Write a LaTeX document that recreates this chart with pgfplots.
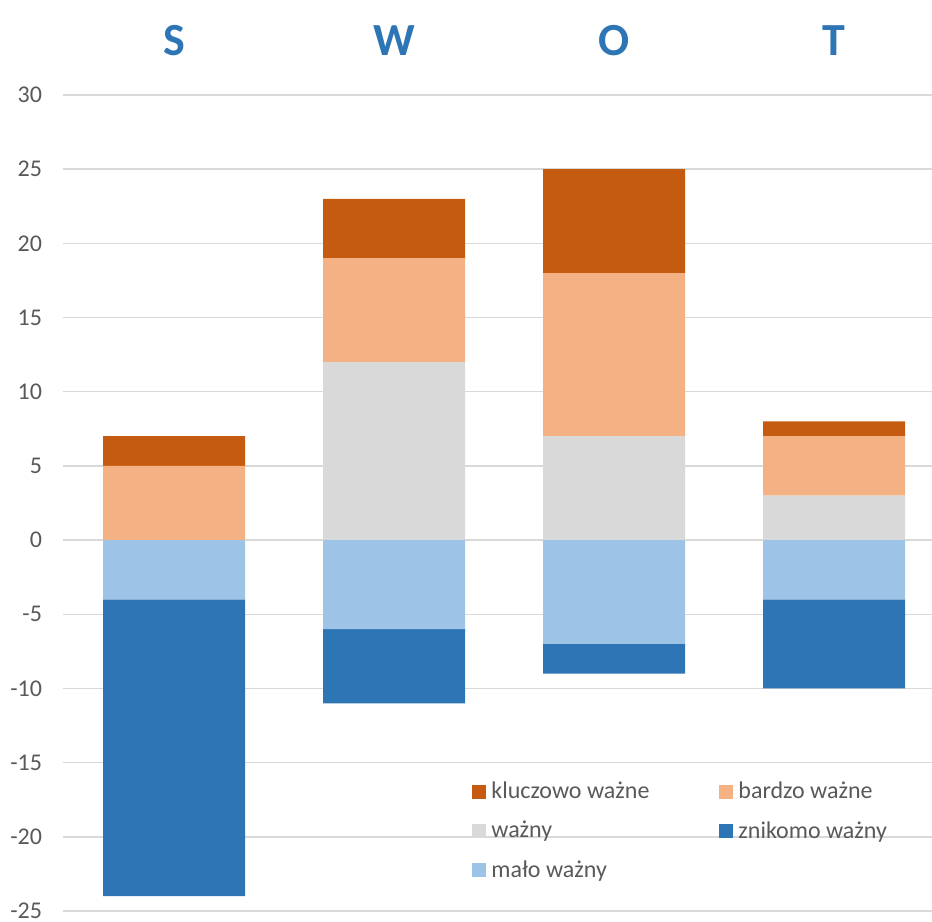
\documentclass[border=0pt]{standalone}
\usepackage{fontspec}
\setmainfont{Carlito}
\usepackage{pgfplots}
\pgfplotsset{compat=1.18}

\definecolor{klucz}{HTML}{C55A11}
\definecolor{bardzo}{HTML}{F4B183}
\definecolor{wazny}{HTML}{D9D9D9}
\definecolor{znikomo}{HTML}{2E75B6}
\definecolor{malo}{HTML}{9DC3E6}
\definecolor{txt}{HTML}{595959}
\definecolor{gridc}{HTML}{D9D9D9}
\definecolor{titleblue}{HTML}{2E75B6}

\pgfplotsset{
  sq/.style={fill=#1, draw=none,
    legend image code/.code={\fill[fill=#1] (0pt,-3.5pt) rectangle (7pt,3.5pt);}},
}

\begin{document}
\begin{tikzpicture}
\begin{axis}[
    scale only axis,
    width=434.5pt, height=408pt,
    xmin=-0.5045, xmax=3.445,
    ymin=-25, ymax=30,
    ybar stacked,
    bar width=71pt,
    xtick={0,1,2,3},
    xticklabels={S,W,O,T},
    xticklabel pos=upper,
    ytick={-25,-20,...,30},
    yticklabels={-25,-20,-15,-10,-5,0,5,10,15,20,25,30},
    axis line style={draw=none},
    tick style={draw=none},
    major tick length=0pt,
    ymajorgrids,
    grid style={color=gridc, line width=0.75pt},
    xticklabel style={font=\fontsize{23}{28}\selectfont\bfseries, text=titleblue, yshift=16pt},
    yticklabel style={font=\fontsize{12}{14}\selectfont, text=txt, xshift=-7pt},
    legend style={at={(rel axis cs:0.4706,0.162)}, anchor=north west,
      draw=none, fill=none, inner sep=0pt, row sep=6.75pt,
      font=\fontsize{12}{14}\selectfont, text=txt,
      nodes={inner sep=1.5pt},
      /tikz/every odd column/.append style={column sep=1pt},
      /tikz/every even column/.append style={column sep=33.5pt}},
    legend columns=2,
    legend cell align=left,
]
% negative part (stacked downwards from zero)
\addplot[fill=malo, draw=none, forget plot] coordinates {(0,-4) (1,-6) (2,-7) (3,-4)};
\addplot[fill=znikomo, draw=none, forget plot] coordinates {(0,-20) (1,-5) (2,-2) (3,-6)};
% positive part
\addplot[fill=wazny, draw=none, forget plot] coordinates {(0,0) (1,12) (2,7) (3,3)};
\addplot[fill=bardzo, draw=none, forget plot] coordinates {(0,5) (1,7) (2,11) (3,4)};
\addplot[fill=klucz, draw=none, forget plot] coordinates {(0,2) (1,4) (2,7) (3,1)};

\addlegendimage{sq=klucz}
\addlegendentry{kluczowo ważne}
\addlegendimage{sq=bardzo}
\addlegendentry{bardzo ważne}
\addlegendimage{sq=wazny}
\addlegendentry{ważny}
\addlegendimage{sq=znikomo}
\addlegendentry{znikomo ważny}
\addlegendimage{sq=malo}
\addlegendentry{mało ważny}
\end{axis}
\pgfresetboundingbox
\path[use as bounding box] ([shift={(-31.5pt,-5.5pt)}]current axis.south west)
  rectangle ([shift={(0pt,47.5pt)}]current axis.north east);
\end{tikzpicture}
\end{document}
